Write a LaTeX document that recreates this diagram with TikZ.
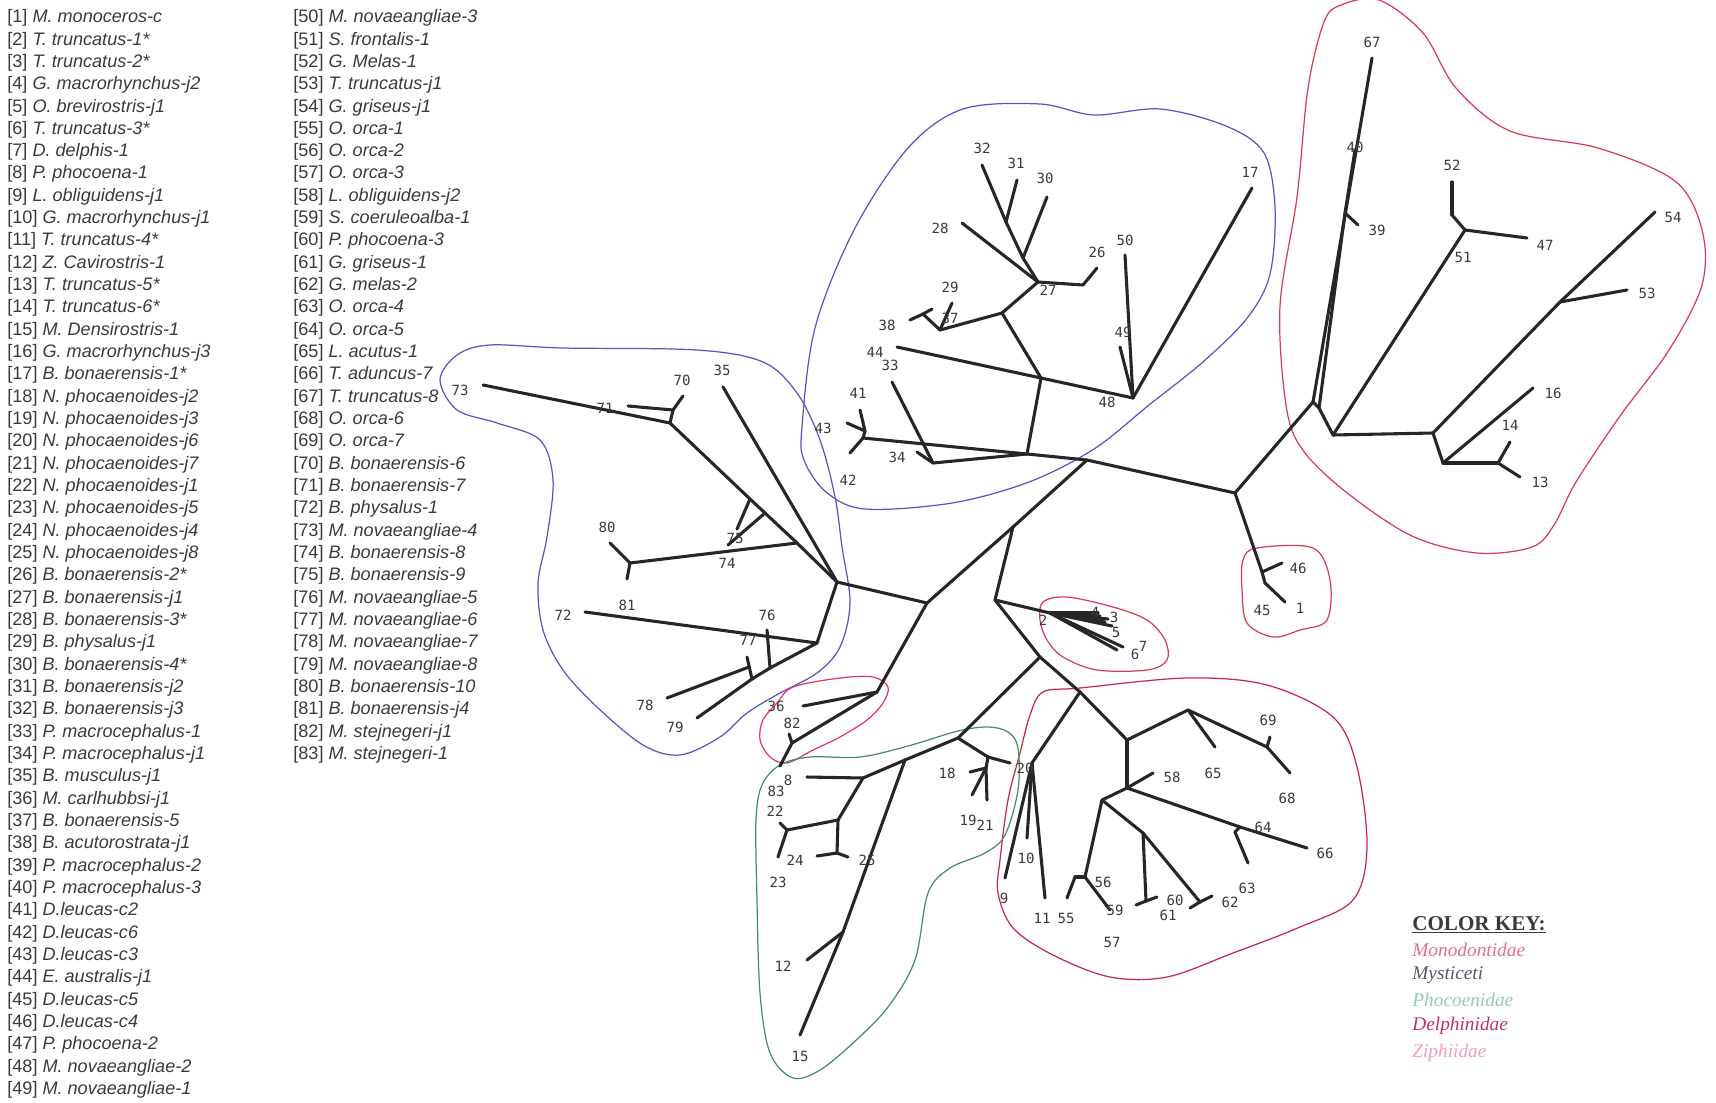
\documentclass[tikz,border=0pt]{standalone}
\usepackage{fontspec}
\setmainfont{Liberation Sans}
\newfontfamily\numfont{DejaVu Sans Mono}
\newfontfamily\keyfont{Liberation Serif}
\definecolor{treecol}{RGB}{38,38,38}
\definecolor{textcol}{RGB}{58,58,58}
\definecolor{bluecol}{RGB}{85,85,200}
\definecolor{redcol}{RGB}{215,60,85}
\definecolor{delcol}{RGB}{200,40,70}
\definecolor{greencol}{RGB}{70,140,100}
\definecolor{pinkcol}{RGB}{230,50,110}
\definecolor{kmono}{RGB}{230,110,130}
\definecolor{kmyst}{RGB}{80,90,110}
\definecolor{kphoc}{RGB}{150,200,180}
\definecolor{kdelp}{RGB}{190,50,90}
\definecolor{kziph}{RGB}{240,160,180}
\tikzset{
  br/.style={draw=treecol, line width=1.75pt, line cap=round, line join=round},
  num/.style={font=\numfont\fontsize{8}{9}\selectfont, text=textcol, inner sep=0pt},
  leg/.style={font=\fontsize{10.3}{12}\selectfont, text=textcol, anchor=west, inner sep=0pt},
  hull/.style={line width=0.7pt},
  keyent/.style={font=\keyfont\itshape\fontsize{11}{13}\selectfont, anchor=west, inner sep=0pt}
}
\begin{document}
\begin{tikzpicture}[x=0.02cm,y=-0.02cm]
\useasboundingbox (0,0) rectangle (1716,1102);

% ---------- legend ----------
\foreach \t [count=\k] in {M. monoceros-c, T. truncatus-1*, T. truncatus-2*, G. macrorhynchus-j2, O. brevirostris-j1, T. truncatus-3*, D. delphis-1, P. phocoena-1, L. obliguidens-j1, G. macrorhynchus-j1, T. truncatus-4*, Z. Cavirostris-1, T. truncatus-5*, T. truncatus-6*, M. Densirostris-1, G. macrorhynchus-j3, B. bonaerensis-1*, N. phocaenoides-j2, N. phocaenoides-j3, N. phocaenoides-j6, N. phocaenoides-j7, N. phocaenoides-j1, N. phocaenoides-j5, N. phocaenoides-j4, N. phocaenoides-j8, B. bonaerensis-2*, B. bonaerensis-j1, B. bonaerensis-3*, B. physalus-j1, B. bonaerensis-4*, B. bonaerensis-j2, B. bonaerensis-j3, P. macrocephalus-1, P. macrocephalus-j1, B. musculus-j1, M. carlhubbsi-j1, B. bonaerensis-5, B. acutorostrata-j1, P. macrocephalus-2, P. macrocephalus-3, D.leucas-c2, D.leucas-c6, D.leucas-c3, E. australis-j1, D.leucas-c5, D.leucas-c4, P. phocoena-2, M. novaeangliae-2, M. novaeangliae-1}
  \node[leg] (leg\k) at (7,{18+22.33*(\k-1)}) {[\k] \textit{\t}};
\foreach \t [count=\k from 50] in {M. novaeangliae-3, S. frontalis-1, G. Melas-1, T. truncatus-j1, G. griseus-j1, O. orca-1, O. orca-2, O. orca-3, L. obliguidens-j2, S. coeruleoalba-1, P. phocoena-3, G. griseus-1, G. melas-2, O. orca-4, O. orca-5, L. acutus-1, T. aduncus-7, T. truncatus-8, O. orca-6, O. orca-7, B. bonaerensis-6, B. bonaerensis-7, B. physalus-1, M. novaeangliae-4, B. bonaerensis-8, B. bonaerensis-9, M. novaeangliae-5, M. novaeangliae-6, M. novaeangliae-7, M. novaeangliae-8, B. bonaerensis-10, B. bonaerensis-j4, M. stejnegeri-j1, M. stejnegeri-1}
  \node[leg] (leg\k) at (293,{18+22.33*(\k-50)}) {[\k] \textit{\t}};

% ---------- outlines ----------
\draw[hull, bluecol] plot[smooth cycle, tension=0.55] coordinates {(802,427) (815,328) (854,230) (908,148) (963,109) (1040,104) (1094,115) (1160,109) (1226,126) (1264,153) (1275,208) (1270,274) (1248,317) (1204,361) (1149,405) (1094,449) (1029,482) (952,503) (865,509) (826,492) (804,460)};
\draw[hull, bluecol] plot[smooth cycle, tension=0.55] coordinates {(457,355) (490,345) (563,348) (697,350) (763,362) (797,393) (820,440) (835,497) (842,547) (850,603) (840,647) (817,673) (780,693) (747,713) (720,737) (680,755) (643,745) (597,707) (563,670) (543,630) (538,583) (547,537) (553,480) (540,440) (497,423) (457,410) (440,380)};
\draw[hull, redcol] plot[smooth cycle, tension=0.55] coordinates {(1341,5) (1379,0) (1423,33) (1456,88) (1510,131) (1598,148) (1675,181) (1702,230) (1702,285) (1669,350) (1620,416) (1576,482) (1554,525) (1532,547) (1477,553) (1412,536) (1346,492) (1302,449) (1286,405) (1280,306) (1297,197) (1308,88) (1324,22)};
\draw[hull, redcol] plot[smooth cycle, tension=0.55] coordinates {(1243,560) (1257,548) (1313,548) (1330,580) (1327,620) (1300,630) (1273,637) (1247,623) (1242,590)};
\draw[hull, redcol] plot[smooth cycle, tension=0.55] coordinates {(1043,602) (1067,597) (1113,607) (1147,620) (1165,640) (1167,660) (1147,670) (1097,670) (1063,657) (1047,640) (1040,620)};
\draw[hull, delcol] plot[smooth cycle, tension=0.55] coordinates {(1043,692) (1080,688) (1187,678) (1267,685) (1333,717) (1357,767) (1367,847) (1353,900) (1300,927) (1233,953) (1167,977) (1110,977) (1053,955) (1013,928) (998,893) (1000,860) (1008,800) (1020,753) (1030,715)};
\draw[hull, pinkcol] plot[smooth cycle, tension=0.55] coordinates {(777,703) (793,687) (840,678) (873,677) (888,687) (883,703) (867,720) (840,737) (813,750) (787,763) (770,757) (760,740) (763,720)};
\draw[hull, greencol] plot[smooth cycle, tension=0.55] coordinates {(780,765) (810,757) (860,757) (908,746) (958,731) (988,727) (1008,732) (1018,748) (1018,790) (1005,835) (985,853) (950,868) (928,893) (915,960) (888,1007) (853,1043) (820,1070) (793,1078) (770,1053) (760,993) (757,900) (756,820) (762,785)};

% ---------- tree points ----------
\foreach \n/\x/\y in {
 A/1087/460, N0/1013/527, C1/927/603, C2/995/600, R1/1235/493, L1/837/582,
 J2/1027/454, J11/863/438, J12/865/431, t41/860/410, t43/847/423, t42/850/453,
 J10/933/463, t33/892/382, t34/917/452, J1/1041/378, J48/1133/398, t17/1252/188,
 t50/1125/255, t49/1120/347, t44/897/347, J3/1002/313, J4/1038/282, J5/940/330,
 t29/952/303, J6/923/314, t38/910/320, t37/932/309, J9/1083/285, t26/1097/268,
 J7/1023/258, t30/1047/197, J8/1006/222, t32/982/165, t31/1017/180, t28/962/223,
 R2/1313/402, R2b/1319/408, t67/1372/58, R4/1345/213, t40/1355/150, t39/1358/225,
 R5/1333/435, R6/1465/230, R6b/1452/215, t52/1452/182, t47/1527/238, R7/1433/433,
 R8/1560/302, t54/1655/212, t53/1627/290, R9/1443/463, t16/1533/388, R10/1498/463,
 t13a/1510/442, t13/1520/477, Q1/1262/572, t46/1282/563, Q2/1265/583, t1/1285/602,
 F/1050/613, t4/1098/613, t3/1108/619, t5/1112/626, t6/1123/647, t7/1117/650,
 t4b/1100/616, t5b/1105/622,
 D0/1040/657, D2/1080/692, D1/1127/740, T20/1032/763, t9/1005/878, t10/1027/838,
 t11/1045/898, D3/1188/710, t65/1215/747, D5/1267/747, t69/1270/737, t68/1290/773,
 D4/1127/788, t58/1153/773, D6/1102/800, D7/1240/827, t66/1307/848, D7b/1235/832,
 t63/1248/863, D8/1085/877, D8b/1075/877, t55/1067/898, t59/1110/910, D9/1143/833,
 D9b/1146/901, t60a/1136/905, t60b/1157/897, D10/1200/902, t62a/1190/908, t62b/1212/896,
 P0/958/738, P1/988/757, ta/1010/763, P2/986/768, tb/970/772, t19/972/795, t21/987/800,
 P3/905/760, P4/863/778, t8/807/777, N12/843/932, t12/807/960, t15/800/1035,
 P5/838/820, P6/837/853, t25a/817/856, t25b/848/857, P7/787/830, t22/780/823, t23/778/857,
 Z1/877/692, t36/803/706, Z2/792/743, tz/789/734, t82/780/766,
 L2/817/643, t35/723/387, L3/797/543, L4/765/513, L5/750/499, L6/670/423, t73/483/385,
 L6b/673/410, t70/683/396, t71/628/406, t75/728/545, t75b/737/529, L7/630/563,
 t80/610/543, t80b/627/579, t72/585/612, M1/770/668, t76/767/630, M4/752/679,
 t79/697/718, M3/749/667, M3t/747/657, t78/667/698}
  \coordinate (\n) at (\x,\y);

% ---------- branches ----------
\foreach \a/\b in {A/N0, N0/C1, N0/C2, A/R1, A/J2, C1/L1, C1/Z1, C2/F, C2/D0,
 J2/J11, J2/J10, J2/J1, J11/J12, J12/t41, J12/t43, J11/t42, J10/t33, J10/t34,
 J1/J48, J1/t44, J1/J3, J48/t17, J48/t50, J48/t49, J3/J4, J3/J5, J5/t29, J5/J6,
 J6/t38, J6/t37, J4/J9, J9/t26, J4/J7, J7/t30, J7/J8, J8/t32, J8/t31, J4/t28,
 R1/R2, R2/t67, R2/R2b, R2b/R4, R4/t40, R4/t39, R2b/R5, R5/R6, R6/R6b, R6b/t52,
 R6/t47, R5/R7, R7/R8, R8/t54, R8/t53, R7/R9, R9/t16, R9/R10, R10/t13a, R10/t13,
 R1/Q1, Q1/t46, Q1/Q2, Q2/t1,
 F/t4, F/t3, F/t5, F/t6, F/t7, F/t4b, F/t5b,
 D0/D2, D0/P0, D2/D1, D2/T20, T20/t9, T20/t10, T20/t11, D1/D3, D3/t65, D3/D5,
 D5/t69, D5/t68, D1/D4, D4/t58, D4/D6, D4/D7, D7/t66, D7/D7b, D7b/t63, D6/D8,
 D8/D8b, D8b/t55, D8/t59, D6/D9, D9/D9b, D9b/t60a, D9b/t60b, D9/D10, D10/t62a, D10/t62b,
 P0/P1, P1/ta, P1/P2, P2/t19, P2/t21, P2/tb, P0/P3, P3/P4, P3/N12, N12/t15, N12/t12,
 P4/t8, P4/P5, P5/P6, P6/t25a, P6/t25b, P5/P7, P7/t22, P7/t23,
 Z1/t36, Z1/Z2, Z2/tz, Z2/t82,
 L1/L2, L1/t35, L1/L3, L3/L4, L4/L5, L5/L6, L6/t73, L6/L6b, L6b/t70, L6b/t71,
 L4/t75, L5/t75b, L3/L7, L7/t80, L7/t80b, L2/t72, L2/M1, M1/t76, M1/M4, M4/t79,
 M4/M3t, M3/t78}
  \draw[br] (\a) -- (\b);

% ---------- tip labels ----------
\foreach \n/\x/\y in {
 17/1250/172, 50/1125/240, 49/1123/332, 48/1107/402, 26/1097/252, 27/1048/290,
 28/940/228, 32/982/148, 31/1016/163, 30/1045/178, 29/950/287, 37/950/318,
 38/887/325, 44/875/352, 33/890/365, 41/858/393, 43/823/428, 34/897/457, 42/848/480,
 67/1372/42, 40/1355/147, 39/1377/230, 52/1452/165, 51/1463/257, 47/1545/245,
 54/1673/217, 53/1647/293, 16/1553/393, 14/1510/425, 13/1540/482,
 46/1298/568, 1/1300/608, 45/1262/610,
 2/1043/620, 4/1095/612, 3/1114/617, 5/1116/632, 6/1135/654, 7/1143/646,
 20/1025/768, 10/1026/858, 9/1004/898, 11/1042/918, 55/1066/918, 56/1103/882,
 59/1115/910, 57/1112/942, 60/1175/900, 61/1168/915, 62/1230/902, 63/1247/888,
 64/1263/827, 66/1325/853, 58/1172/777, 65/1213/773, 69/1268/720, 68/1287/798,
 18/947/773, 19/968/820, 21/985/825, 8/788/780, 83/776/791, 22/775/811,
 24/795/860, 23/778/882, 25/867/860, 12/783/966, 15/800/1056,
 36/776/706, 82/792/723,
 73/460/390, 70/682/380, 35/722/370, 71/605/408, 75/735/538, 80/607/527,
 74/727/563, 72/563/615, 81/627/605, 76/767/615, 77/748/640, 78/645/705, 79/675/727}
  \node[num] (n\n) at (\x,\y) {\n};

% ---------- colour key ----------
\node[anchor=west, inner sep=0pt, text=textcol, font=\keyfont\bfseries\fontsize{12}{14}\selectfont] (keytitle) at (1412,925) {\underline{COLOR KEY:}};
\node[keyent, text=kmono] (kmonot) at (1412,950) {Monodontidae};
\node[keyent, text=kmyst] (kmystt) at (1412,975) {Mysticeti};
\node[keyent, text=kphoc] (kphoct) at (1412,1000) {Phocoenidae};
\node[keyent, text=kdelp] (kdelpt) at (1412,1026) {Delphinidae};
\node[keyent, text=kziph] (kzipht) at (1412,1053) {Ziphiidae};
\end{tikzpicture}
\end{document}
